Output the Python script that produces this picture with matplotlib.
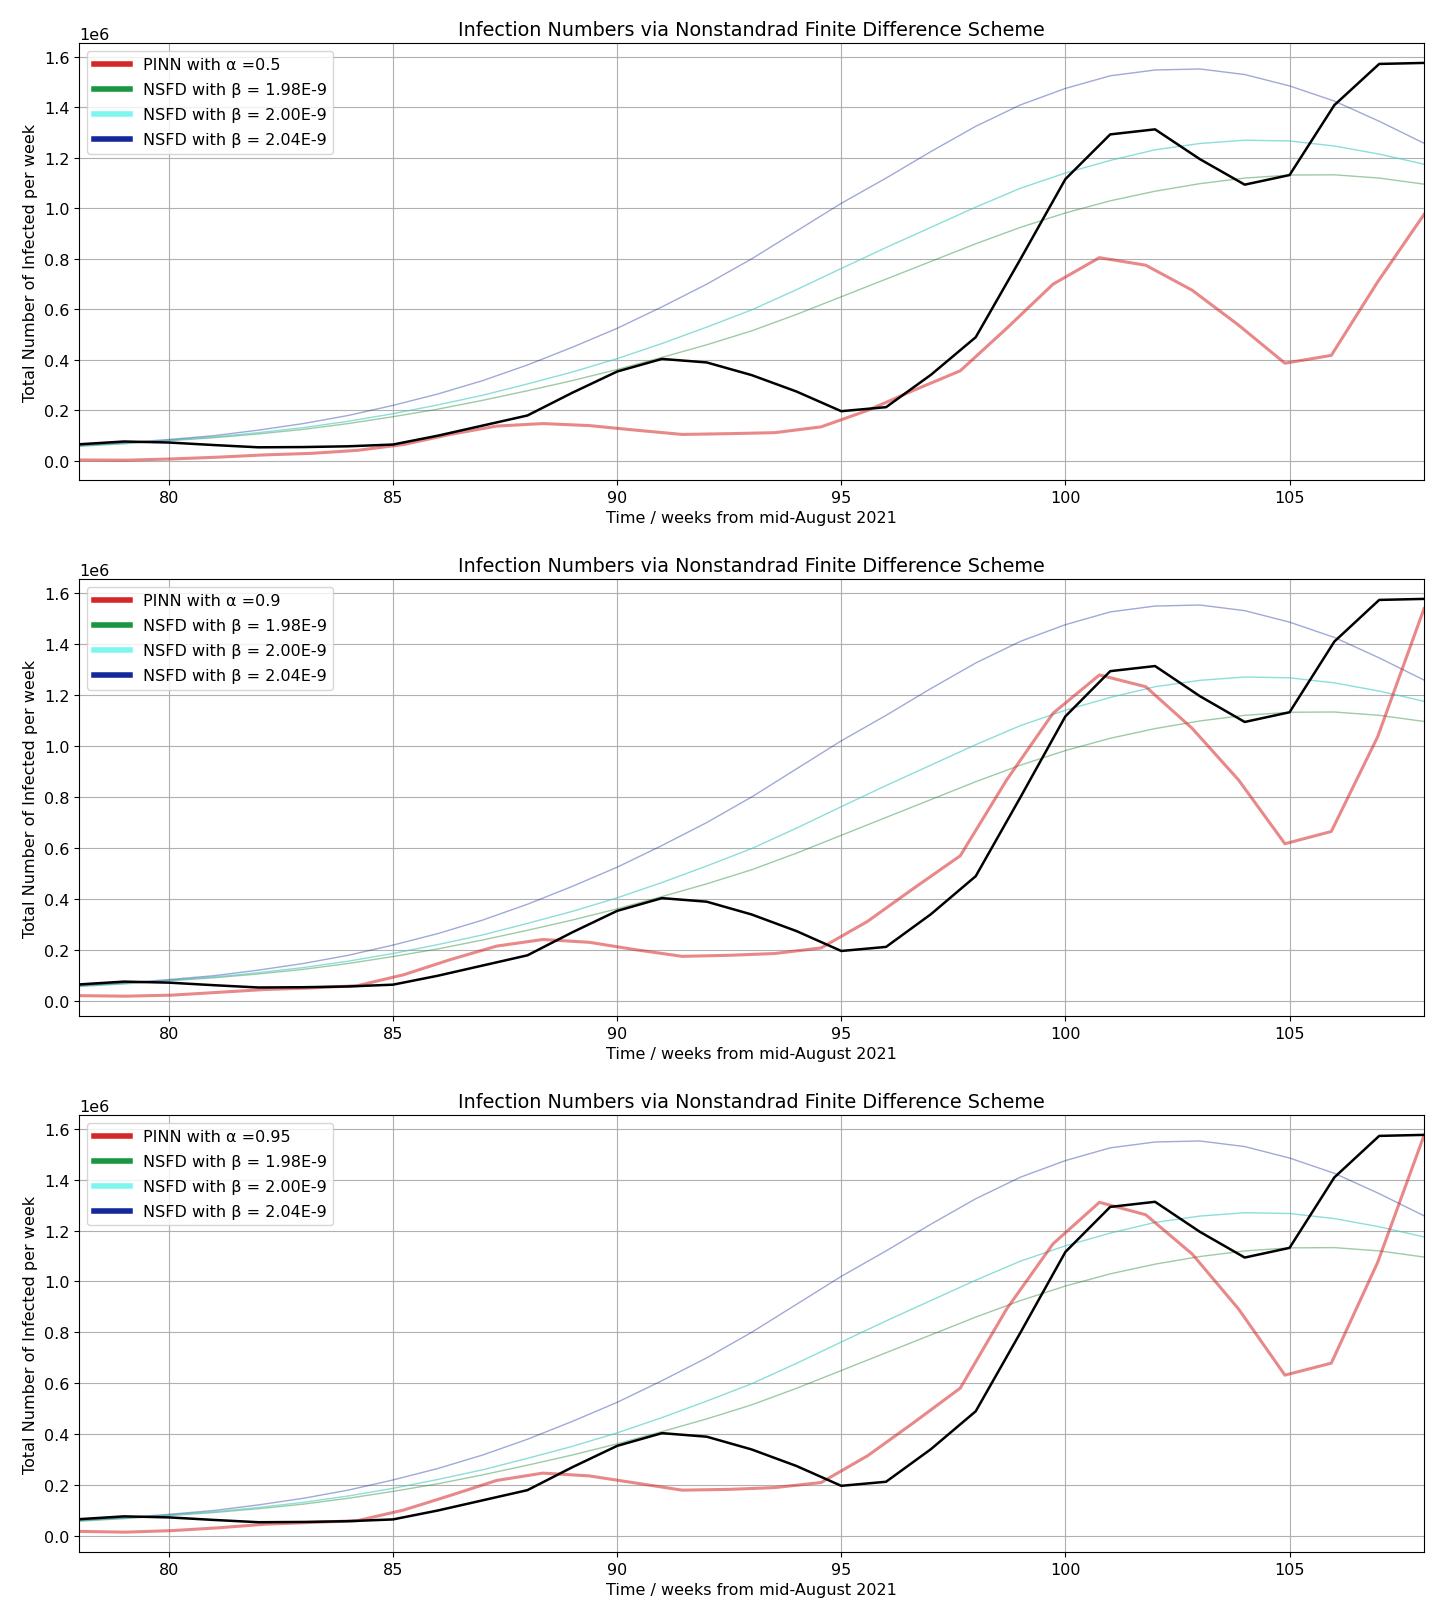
import numpy as np
import matplotlib.pyplot as plt
from matplotlib.lines import Line2D

# weeks for observed data and NSFD curves
weeks = np.arange(78, 109)
# PINN output grid (30 points between week 78 and 108)
t_pinn = np.linspace(78, 108, 30)

# observed infections per week (millions)
observed = [0.066, 0.077, 0.073, 0.063, 0.054, 0.055, 0.058, 0.065, 0.100, 0.140,
            0.180, 0.270, 0.354, 0.404, 0.390, 0.340, 0.275, 0.197, 0.213, 0.341,
            0.490, 0.800, 1.116, 1.293, 1.313, 1.195, 1.094, 1.132, 1.409, 1.572, 1.576]

nsfd_198 = [0.058, 0.068, 0.080, 0.092, 0.107, 0.125, 0.148, 0.175, 0.205, 0.240,
            0.278, 0.318, 0.362, 0.410, 0.460, 0.515, 0.580, 0.650, 0.720, 0.790,
            0.860, 0.925, 0.982, 1.030, 1.068, 1.098, 1.120, 1.132, 1.133, 1.120, 1.096]
nsfd_200 = [0.060, 0.070, 0.082, 0.095, 0.112, 0.132, 0.157, 0.187, 0.222, 0.260,
            0.305, 0.352, 0.405, 0.465, 0.530, 0.598, 0.678, 0.762, 0.845, 0.925,
            1.005, 1.080, 1.140, 1.190, 1.232, 1.257, 1.270, 1.267, 1.247, 1.215, 1.175]
nsfd_204 = [0.062, 0.072, 0.085, 0.100, 0.122, 0.148, 0.180, 0.220, 0.265, 0.318,
            0.380, 0.450, 0.525, 0.610, 0.700, 0.800, 0.910, 1.020, 1.120, 1.225,
            1.325, 1.410, 1.475, 1.525, 1.548, 1.552, 1.530, 1.485, 1.425, 1.345, 1.258]

pinn_05 = [0.004, 0.003, 0.008, 0.015, 0.024, 0.030, 0.042, 0.065, 0.105, 0.138,
           0.148, 0.140, 0.122, 0.105, 0.108, 0.112, 0.135, 0.200, 0.280, 0.357,
           0.525, 0.700, 0.805, 0.775, 0.676, 0.538, 0.387, 0.418, 0.709, 0.976]
pinn_09 = [0.022, 0.020, 0.024, 0.035, 0.046, 0.052, 0.061, 0.104, 0.163, 0.216,
           0.242, 0.231, 0.202, 0.176, 0.180, 0.187, 0.209, 0.313, 0.443, 0.570,
           0.867, 1.128, 1.278, 1.232, 1.069, 0.867, 0.617, 0.665, 1.036, 1.538]
pinn_095 = [0.018, 0.015, 0.021, 0.032, 0.046, 0.053, 0.060, 0.102, 0.159, 0.218,
            0.247, 0.236, 0.208, 0.180, 0.183, 0.190, 0.210, 0.315, 0.446, 0.581,
            0.892, 1.148, 1.311, 1.262, 1.108, 0.892, 0.632, 0.679, 1.075, 1.574]

alphas = ["0.5", "0.9", "0.95"]
pinn_runs = [pinn_05, pinn_09, pinn_095]

c_red = "#d62728"
c_green = "#1a9641"
c_cyan = "#7ff5f0"
c_blue = "#14289c"

fig, axes = plt.subplots(3, 1, figsize=(14.39, 16.08), dpi=100)
plt.subplots_adjust(left=0.055, right=0.9896, top=0.9726, bottom=0.0342, hspace=0.2265)

for ax, a, pinn in zip(axes, alphas, pinn_runs):
    ax.plot(weeks, np.array(nsfd_198) * 1e6, color="#2a8a3a", lw=1, alpha=0.45)
    ax.plot(weeks, np.array(nsfd_200) * 1e6, color="#40c8c0", lw=1, alpha=0.6)
    ax.plot(weeks, np.array(nsfd_204) * 1e6, color=c_blue, lw=1, alpha=0.4)
    ax.plot(t_pinn, np.array(pinn) * 1e6, color=c_red, lw=2.2, alpha=0.55)
    ax.plot(weeks, np.array(observed) * 1e6, color="black", lw=1.8)

    ax.set_xlim(78, 108)
    ax.grid(True)
    ax.tick_params(labelsize=11.5)
    ax.yaxis.get_offset_text().set_fontsize(11.5)
    ax.set_title("Infection Numbers via Nonstandrad Finite Difference Scheme", fontsize=13.8)
    ax.set_xlabel("Time / weeks from mid-August 2021", fontsize=11.5)
    ax.set_ylabel("Total Number of Infected per week", fontsize=11.5)

    handles = [Line2D([], [], color=c_red, lw=4),
               Line2D([], [], color=c_green, lw=4),
               Line2D([], [], color=c_cyan, lw=4),
               Line2D([], [], color=c_blue, lw=4)]
    labels = [f"PINN with \u03b1 ={a}",
              "NSFD with \u03b2 = 1.98E-9",
              "NSFD with \u03b2 = 2.00E-9",
              "NSFD with \u03b2 = 2.04E-9"]
    ax.legend(handles, labels, loc="upper left", fontsize=11.5,
              labelspacing=0.62, handlelength=2.3)

plt.savefig("out.png", dpi=100)
plt.close()
